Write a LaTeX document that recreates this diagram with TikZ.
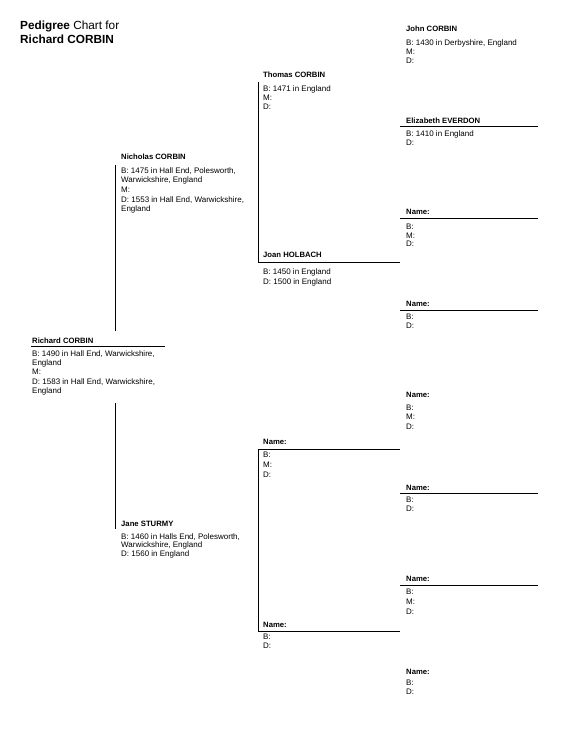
\documentclass[tikz,border=0pt]{standalone}
\usepackage{fontspec}
\setmainfont{Liberation Sans}
\begin{document}
\begin{tikzpicture}[x=1pt,y=-1pt,
  txt/.style={anchor=base west,inner sep=0pt,font=\fontsize{8}{9}\selectfont},
  nm/.style={anchor=base west,inner sep=0pt,font=\fontsize{7.7}{9}\selectfont\bfseries},
  ttl/.style={anchor=base west,inner sep=0pt,font=\fontsize{11.8}{13}\selectfont},
  ln/.style={line width=0.8pt}]
\useasboundingbox[fill=white] (0,0) rectangle (573,747);

% Title
\node[ttl] (t1) at (20,29) {\textbf{Pedigree} Chart for};
\node[ttl] (t2) at (20,43) {\textbf{Richard CORBIN}};

% Generation 1
\node[nm]  (p1n) at (32,343.5) {Richard CORBIN};
\node[txt] (p1b) at (32,356.5) {B: 1490 in Hall End, Warwickshire,};
\node[txt] (p1b2) at (32,365.5) {England};
\node[txt] (p1m) at (32,374.5) {M:};
\node[txt] (p1d) at (32,384.5) {D: 1583 in Hall End, Warwickshire,};
\node[txt] (p1d2) at (32,393.5) {England};

% Generation 2
\node[nm]  (p2n) at (121,159) {Nicholas CORBIN};
\node[txt] (p2b) at (121,173.5) {B: 1475 in Hall End, Polesworth,};
\node[txt] (p2b2) at (121,182) {Warwickshire, England};
\node[txt] (p2m) at (121,192.5) {M:};
\node[txt] (p2d) at (121,202.5) {D: 1553 in Hall End, Warwickshire,};
\node[txt] (p2d2) at (121,211.5) {England};

\node[nm]  (p3n) at (121,526.5) {Jane STURMY};
\node[txt] (p3b) at (121,539.5) {B: 1460 in Halls End, Polesworth,};
\node[txt] (p3b2) at (121,547.5) {Warwickshire, England};
\node[txt] (p3d) at (121,556) {D: 1560 in England};

% Generation 3
\node[nm]  (p4n) at (263,77.5) {Thomas CORBIN};
\node[txt] (p4b) at (263,91.5) {B: 1471 in England};
\node[txt] (p4m) at (263,100.5) {M:};
\node[txt] (p4d) at (263,109.5) {D:};

\node[nm]  (p5n) at (263,257.5) {Joan HOLBACH};
\node[txt] (p5b) at (263,274.5) {B: 1450 in England};
\node[txt] (p5d) at (263,284) {D: 1500 in England};

\node[nm]  (p6n) at (263,444.5) {Name:};
\node[txt] (p6b) at (263,457.5) {B:};
\node[txt] (p6m) at (263,467) {M:};
\node[txt] (p6d) at (263,477) {D:};

\node[nm]  (p7n) at (263,627.5) {Name:};
\node[txt] (p7b) at (263,639.5) {B:};
\node[txt] (p7d) at (263,648.5) {D:};

% Generation 4
\node[nm]  (p8n) at (406,31.5) {John CORBIN};
\node[txt] (p8b) at (406,45) {B: 1430 in Derbyshire, England};
\node[txt] (p8m) at (406,54.5) {M:};
\node[txt] (p8d) at (406,63.5) {D:};

\node[nm]  (p9n) at (406,123.5) {Elizabeth EVERDON};
\node[txt] (p9b) at (406,136.5) {B: 1410 in England};
\node[txt] (p9d) at (406,145.5) {D:};

\node[nm]  (p10n) at (406,214.5) {Name:};
\node[txt] (p10b) at (406,229) {B:};
\node[txt] (p10m) at (406,238) {M:};
\node[txt] (p10d) at (406,246.5) {D:};

\node[nm]  (p11n) at (406,306.5) {Name:};
\node[txt] (p11b) at (406,319.5) {B:};
\node[txt] (p11d) at (406,328.5) {D:};

\node[nm]  (p12n) at (406,397.5) {Name:};
\node[txt] (p12b) at (406,410.5) {B:};
\node[txt] (p12m) at (406,419.5) {M:};
\node[txt] (p12d) at (406,429.5) {D:};

\node[nm]  (p13n) at (406,490.5) {Name:};
\node[txt] (p13b) at (406,502.5) {B:};
\node[txt] (p13d) at (406,511) {D:};

\node[nm]  (p14n) at (406,581.5) {Name:};
\node[txt] (p14b) at (406,594.5) {B:};
\node[txt] (p14m) at (406,604) {M:};
\node[txt] (p14d) at (406,614) {D:};

\node[nm]  (p15n) at (406,674.5) {Name:};
\node[txt] (p15b) at (406,685.5) {B:};
\node[txt] (p15d) at (406,694.5) {D:};

% line coordinates
\coordinate (a1) at (31,346);  \coordinate (a2) at (165,346);
\coordinate (v1) at (115,165); \coordinate (v2) at (115,331);
\coordinate (v3) at (115,403); \coordinate (v4) at (115,529);
\coordinate (g1) at (258,82);  \coordinate (g2) at (258,262); \coordinate (g3) at (400,262);
\coordinate (h1) at (400,449); \coordinate (h2) at (258,449);
\coordinate (h3) at (258,631); \coordinate (h4) at (400,631);
\coordinate (e1) at (400,126); \coordinate (e2) at (538,126);
\coordinate (n1) at (400,218); \coordinate (n2) at (538,218);
\coordinate (n3) at (400,310); \coordinate (n4) at (538,310);
\coordinate (n5) at (400,493); \coordinate (n6) at (538,493);
\coordinate (n7) at (400,585); \coordinate (n8) at (538,585);

\draw[ln] (a1) -- (a2);
\draw[ln] (v1) -- (v2);
\draw[ln] (v3) -- (v4);
\draw[ln] (g1) -- (g2) -- (g3);
\draw[ln] (h1) -- (h2) -- (h3) -- (h4);
\draw[ln] (e1) -- (e2);
\draw[ln] (n1) -- (n2);
\draw[ln] (n3) -- (n4);
\draw[ln] (n5) -- (n6);
\draw[ln] (n7) -- (n8);
\end{tikzpicture}
\end{document}
